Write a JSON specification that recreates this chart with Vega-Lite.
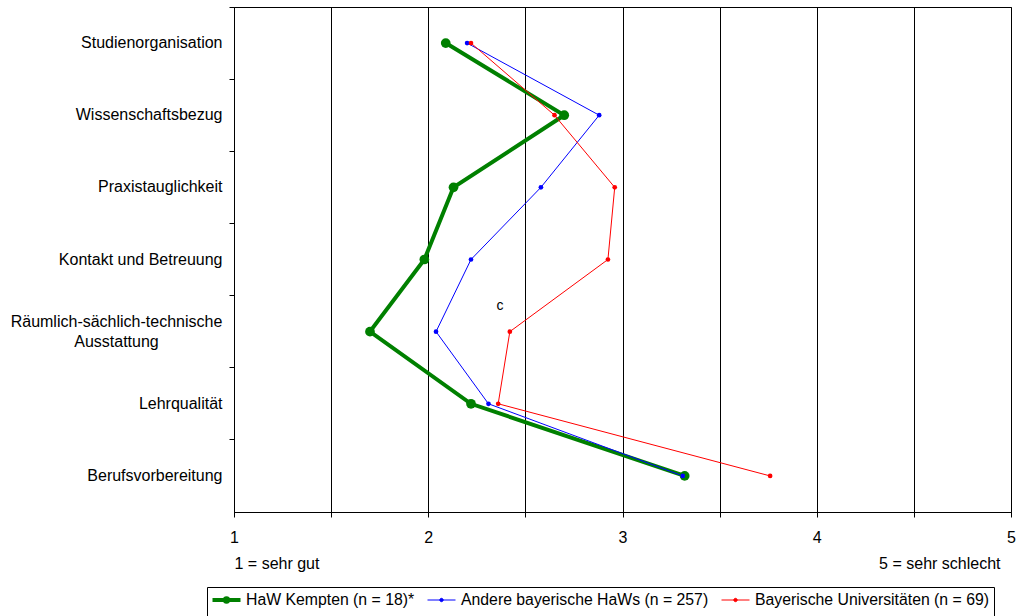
{
  "$schema": "https://vega.github.io/schema/vega-lite/v6.json",
  "width": 777,
  "height": 505,
  "autosize": {"type": "none"},
  "padding": {"left": 234, "top": 7, "right": 8, "bottom": 104},
  "background": "white",
  "config": {
    "font": "Liberation Sans",
    "view": {"stroke": "black", "strokeWidth": 1},
    "axis": {"labelColor": "black", "titleColor": "black", "labelFont": "Liberation Sans", "titleFont": "Liberation Sans"}
  },
  "datasets": {
    "main": [
      {"cat": "Studienorganisation", "series": "HaW Kempten (n = 18)*", "value": 2.09},
      {"cat": "Wissenschaftsbezug", "series": "HaW Kempten (n = 18)*", "value": 2.70},
      {"cat": "Praxistauglichkeit", "series": "HaW Kempten (n = 18)*", "value": 2.13},
      {"cat": "Kontakt und Betreuung", "series": "HaW Kempten (n = 18)*", "value": 1.98},
      {"cat": "Räumlich-sächlich-technische Ausstattung", "series": "HaW Kempten (n = 18)*", "value": 1.70},
      {"cat": "Lehrqualität", "series": "HaW Kempten (n = 18)*", "value": 2.22},
      {"cat": "Berufsvorbereitung", "series": "HaW Kempten (n = 18)*", "value": 3.32},
      {"cat": "Studienorganisation", "series": "Andere bayerische HaWs (n = 257)", "value": 2.20},
      {"cat": "Wissenschaftsbezug", "series": "Andere bayerische HaWs (n = 257)", "value": 2.88},
      {"cat": "Praxistauglichkeit", "series": "Andere bayerische HaWs (n = 257)", "value": 2.58},
      {"cat": "Kontakt und Betreuung", "series": "Andere bayerische HaWs (n = 257)", "value": 2.22},
      {"cat": "Räumlich-sächlich-technische Ausstattung", "series": "Andere bayerische HaWs (n = 257)", "value": 2.04},
      {"cat": "Lehrqualität", "series": "Andere bayerische HaWs (n = 257)", "value": 2.31},
      {"cat": "Berufsvorbereitung", "series": "Andere bayerische HaWs (n = 257)", "value": 3.31},
      {"cat": "Studienorganisation", "series": "Bayerische Universitäten (n = 69)", "value": 2.22},
      {"cat": "Wissenschaftsbezug", "series": "Bayerische Universitäten (n = 69)", "value": 2.65},
      {"cat": "Praxistauglichkeit", "series": "Bayerische Universitäten (n = 69)", "value": 2.96},
      {"cat": "Kontakt und Betreuung", "series": "Bayerische Universitäten (n = 69)", "value": 2.925},
      {"cat": "Räumlich-sächlich-technische Ausstattung", "series": "Bayerische Universitäten (n = 69)", "value": 2.42},
      {"cat": "Lehrqualität", "series": "Bayerische Universitäten (n = 69)", "value": 2.36},
      {"cat": "Berufsvorbereitung", "series": "Bayerische Universitäten (n = 69)", "value": 3.76}
    ],
    "note": [
      {"cat": "Räumlich-sächlich-technische Ausstattung", "x": 2.37, "text": "c"}
    ]
  },
  "layer": [
    {
      "data": {"name": "main"},
      "mark": {"type": "line"},
      "encoding": {
        "x": {
          "field": "value", "type": "quantitative",
          "scale": {"domain": [1, 5], "nice": false, "zero": false},
          "axis": {
            "orient": "bottom",
            "values": [1, 1.5, 2, 2.5, 3, 3.5, 4, 4.5, 5],
            "labelExpr": "datum.value % 1 === 0 ? format(datum.value, 'd') : ''",
            "grid": true, "gridColor": "black", "gridOpacity": 1, "gridWidth": 1,
            "ticks": true, "tickColor": "black", "tickSize": 5, "tickWidth": 1,
            "domain": true, "domainColor": "black", "domainWidth": 1,
            "labelPadding": 12, "labelFontSize": 16, "labelFlush": false, "labelOverlap": false,
            "title": "1 = sehr gut", "titleX": 0, "titleY": 51, "titleAlign": "left", "titleBaseline": "middle",
            "titleFontWeight": "normal", "titleFontSize": 16
          }
        },
        "y": {
          "field": "cat", "type": "nominal", "sort": null,
          "scale": {"type": "band", "paddingInner": 0, "paddingOuter": 0},
          "axis": {
            "orient": "left",
            "ticks": false, "tickSize": 0,
            "domain": true, "domainColor": "black", "domainWidth": 1,
            "grid": false,
            "labelFontSize": 16, "labelLineHeight": 20, "labelLimit": 0,
            "labelPadding": {"condition": {"test": "indexof(datum.label, 'Ausstattung') > 0", "value": 118}, "value": 12},
            "labelAlign": {"condition": {"test": "indexof(datum.label, 'Ausstattung') > 0", "value": "center"}, "value": "right"},
            "labelOffset": {"condition": {"test": "indexof(datum.label, 'Ausstattung') > 0", "value": -10}, "value": 0},
            "labelExpr": "indexof(datum.label, 'Ausstattung') > 0 ? ['Räumlich-sächlich-technische', 'Ausstattung'] : datum.label",
            "title": null
          }
        },
        "color": {
          "field": "series", "type": "nominal", "sort": null,
          "scale": {"range": ["#008000", "#0000FF", "#FF0000"]},
          "legend": {
            "orient": "none", "legendX": -27, "legendY": 580, "direction": "horizontal",
            "title": null, "strokeColor": "black", "fillColor": "white", "padding": 5,
            "labelFontSize": 15.8, "labelColor": "black", "labelFont": "Liberation Sans", "labelLimit": 0,
            "symbolType": "M-1,0H1M-0.12,0A0.12,0.12 0 1,1 0.12,0A0.12,0.12 0 1,1 -0.12,0",
            "symbolSize": 784, "labelOffset": 5, "columnPadding": 12, "clipHeight": 30,
            "encode": {
              "symbols": {"update": {
                "size": {"value": 784},
                "y": {"value": 8},
                "strokeWidth": {"signal": "(datum.index === 0 ? 4 : 1)"}
              }},
              "labels": {"update": {"y": {"value": 8}}}
            }
          }
        },
        "strokeWidth": {
          "field": "series", "type": "nominal", "sort": null,
          "scale": {"type": "ordinal", "range": [4, 1, 1]},
          "legend": null
        },
        "order": {"value": null}
      }
    },
    {
      "data": {"name": "main"},
      "mark": {"type": "circle", "opacity": 1},
      "encoding": {
        "x": {
          "field": "value", "type": "quantitative",
          "axis": {
            "orient": "bottom", "labels": false, "ticks": false, "domain": false, "grid": false,
            "title": "5 = sehr schlecht", "titleX": 766, "titleY": 51, "titleAlign": "right", "titleBaseline": "middle",
            "titleFontWeight": "normal", "titleFontSize": 16
          }
        },
        "y": {
          "field": "cat", "type": "nominal", "sort": null,
          "axis": {
            "orient": "left", "labels": false, "ticks": true, "tickSize": 5, "tickColor": "black", "tickWidth": 1,
            "bandPosition": 0, "domain": false, "grid": false, "title": null
          }
        },
        "color": {"field": "series", "type": "nominal", "sort": null, "legend": null},
        "size": {
          "field": "series", "type": "nominal", "sort": null,
          "scale": {"type": "ordinal", "range": [95, 22, 22]},
          "legend": null
        }
      }
    },
    {
      "data": {"name": "note"},
      "mark": {"type": "text", "dy": -26, "fontSize": 14, "font": "Liberation Sans", "color": "black"},
      "encoding": {
        "x": {"field": "x", "type": "quantitative", "axis": null},
        "y": {"field": "cat", "type": "nominal", "sort": null, "axis": null},
        "text": {"field": "text"}
      }
    }
  ],
  "resolve": {"axis": {"x": "independent", "y": "independent"}}
}
